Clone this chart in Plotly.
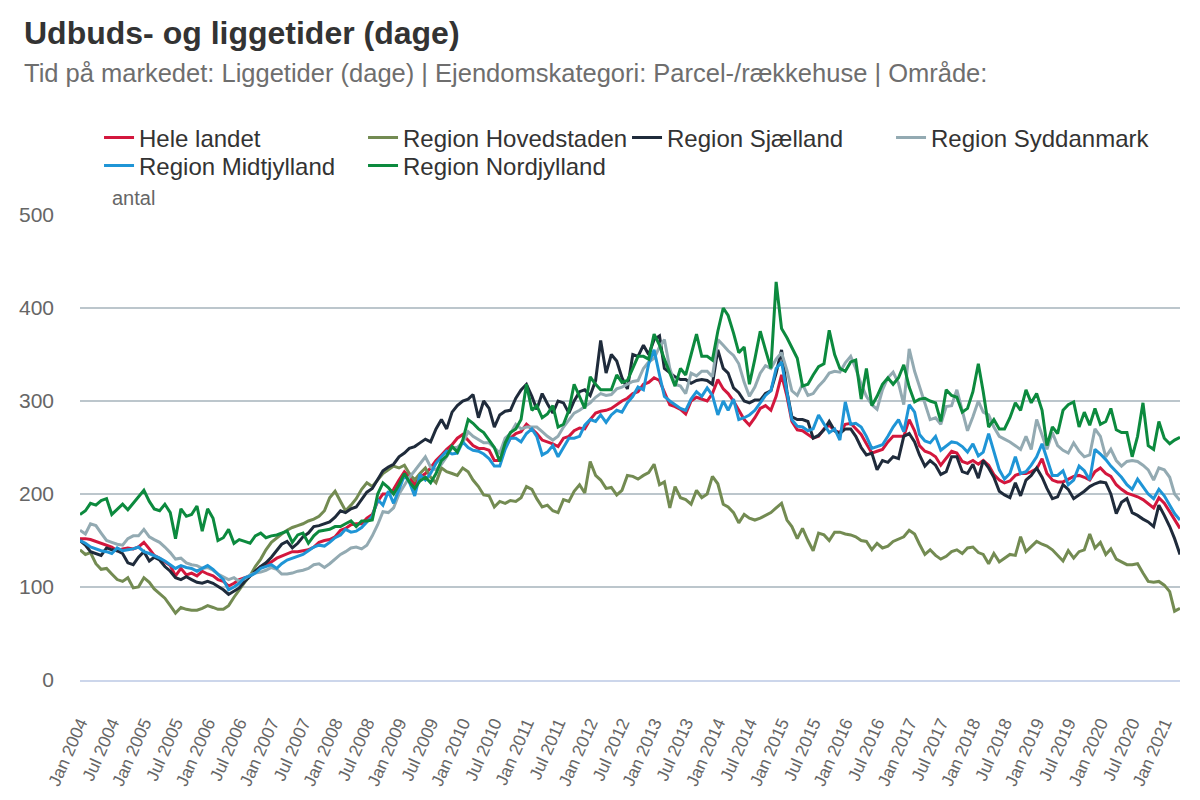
import plotly.graph_objects as go
import pandas as pd

months = pd.date_range("2004-01-01", periods=208, freq="MS")

hele_landet = [
    152,152,151,149,147,145,143,139,141,142,141,143,
    148,141,134,131,127,123,112,120,113,115,112,117,
    114,112,108,106,101,104,108,110,112,116,122,124,
    127,131,133,136,138,138,139,140,143,148,150,151,
    154,161,163,167,168,168,174,178,192,200,200,205,
    215,224,218,210,218,222,228,236,242,248,253,260,
    264,258,252,249,249,247,236,236,250,260,265,267,
    275,270,265,258,256,254,251,260,262,268,271,270,
    280,287,289,290,292,296,300,303,308,310,318,320,
    325,322,310,296,294,291,286,300,304,302,300,308,
    323,313,308,300,290,280,274,282,292,295,290,305,
    328,305,278,269,268,264,260,262,270,274,268,266,
    275,276,270,264,254,244,246,248,256,262,262,262,
    280,268,252,246,244,240,231,238,246,244,235,233,
    236,232,236,231,221,215,212,214,220,222,222,224,
    227,238,222,215,213,213,216,219,220,218,215,224,
    228,222,219,210,205,201,199,197,194,190,185,196,
    190,181,173,163,
]

hovedstaden = [
    140,135,137,125,119,120,114,108,106,110,99,100,
    110,105,98,93,88,80,72,78,76,75,75,77,
    80,78,76,76,80,89,97,105,112,122,130,140,
    148,153,157,161,164,166,168,171,173,176,182,196,
    203,192,182,188,195,205,212,208,215,222,226,230,
    228,231,222,215,222,228,218,212,228,224,222,220,
    228,224,215,208,199,198,186,192,190,193,192,196,
    208,205,195,186,188,182,180,194,192,203,210,201,
    235,220,215,206,207,199,204,220,219,216,220,223,
    232,210,213,185,208,196,194,189,204,196,200,219,
    211,189,186,180,169,178,174,172,174,177,180,185,
    190,172,165,152,163,150,139,158,156,150,159,159,
    157,156,154,150,149,140,147,142,144,149,152,154,
    161,157,146,135,140,134,130,133,138,140,136,142,
    143,137,135,125,136,127,131,135,134,154,138,143,
    149,146,144,140,134,128,139,131,138,140,157,142,
    148,135,141,130,127,124,124,125,115,106,105,106,
    102,95,74,77,
]

sjaelland = [
    150,145,138,136,134,142,140,139,136,126,124,132,
    138,128,132,129,122,117,110,108,111,108,105,104,
    106,104,101,97,92,96,99,106,112,117,122,126,
    132,139,146,149,142,147,154,158,165,166,168,170,
    175,182,180,184,186,194,202,206,215,225,229,232,
    240,244,249,251,255,259,256,270,280,270,288,295,
    300,302,307,282,300,292,272,285,289,290,303,312,
    318,305,291,308,297,287,300,298,287,300,310,312,
    306,322,365,330,350,343,325,313,350,348,360,350,
    366,370,335,330,326,323,323,319,322,323,322,318,
    355,335,330,314,309,300,298,301,301,308,311,330,
    355,310,283,280,280,278,260,263,269,278,268,265,
    270,270,262,250,242,244,226,236,234,240,238,262,
    265,256,242,230,236,231,221,224,240,240,224,222,
    232,217,236,228,218,203,199,196,212,198,215,220,
    228,218,206,195,197,210,205,195,199,203,208,211,
    213,212,200,179,191,195,180,177,173,170,165,188,
    177,165,152,135,
]

syddanmark = [
    161,157,168,166,158,150,148,146,145,152,155,155,
    162,154,151,148,143,137,130,131,126,124,123,120,
    121,118,114,111,108,110,106,109,113,115,116,118,
    121,119,114,114,115,117,118,120,124,125,121,125,
    130,135,138,142,143,141,145,155,167,181,180,185,
    200,210,218,225,232,240,229,226,232,240,250,250,
    255,267,262,258,255,255,250,244,260,265,275,270,
    272,272,272,267,262,258,262,272,280,287,290,294,
    298,304,308,306,307,313,315,318,321,322,335,342,
    346,358,366,335,318,316,308,330,327,332,332,326,
    366,360,354,349,340,320,305,315,330,338,335,345,
    352,333,311,306,318,306,308,316,322,330,332,331,
    341,348,335,318,305,296,291,312,325,331,319,296,
    356,332,315,297,280,282,275,294,295,312,291,268,
    283,300,288,285,272,262,259,256,252,248,262,248,
    280,262,248,266,252,247,244,255,246,240,242,270,
    262,240,248,236,230,235,236,235,231,226,215,228,
    226,218,200,193,
]

midtjylland = [
    150,147,143,141,139,138,136,142,139,140,141,143,
    138,136,134,131,128,124,120,123,121,120,117,120,
    123,119,114,108,97,100,104,110,112,115,120,122,
    124,120,125,129,131,133,135,139,143,145,144,148,
    153,156,162,159,160,164,170,176,194,188,203,190,
    205,220,213,198,221,215,222,233,240,246,243,244,
    256,250,247,246,243,238,230,230,248,260,260,256,
    265,270,262,242,245,252,240,250,260,260,262,274,
    280,278,285,277,285,290,288,298,305,315,312,340,
    355,328,305,300,296,292,290,302,310,305,314,306,
    285,300,290,302,280,282,285,290,298,306,311,335,
    342,308,280,273,272,268,270,285,276,266,270,258,
    299,275,276,272,262,249,251,253,262,272,280,267,
    296,288,264,257,255,262,247,252,256,255,251,245,
    254,241,245,265,245,226,216,222,240,222,224,231,
    240,254,238,220,220,225,210,215,230,225,215,248,
    243,237,230,224,218,210,205,216,208,200,195,205,
    198,188,179,172,
]

nordjylland = [
    178,182,190,188,193,195,178,184,189,183,190,197,
    204,192,184,182,189,180,152,184,176,178,187,160,
    184,174,150,153,162,147,151,149,147,155,158,153,
    155,156,158,160,148,156,158,147,155,160,161,162,
    165,165,168,171,165,171,171,172,200,212,207,200,
    210,222,213,206,214,218,212,222,236,241,251,245,
    258,280,276,270,266,258,250,235,255,266,270,280,
    318,290,295,282,286,295,272,275,290,318,305,292,
    326,318,312,312,312,328,320,322,335,348,348,345,
    372,360,345,330,316,335,328,350,372,348,348,344,
    375,400,392,373,352,358,318,345,375,355,335,428,
    378,368,357,346,316,318,328,337,340,376,350,335,
    332,342,344,302,335,295,305,318,325,318,325,339,
    315,299,302,303,300,298,278,312,306,304,288,292,
    310,340,310,272,280,270,270,282,298,290,312,298,
    308,290,252,272,265,290,296,299,272,288,274,292,
    275,278,292,269,266,266,240,262,298,252,248,278,
    260,254,258,261,
]

series_names = ["Hele landet", "Region Hovedstaden", "Region Sjælland",
                "Region Syddanmark", "Region Midtjylland", "Region Nordjylland"]
series_values = [hele_landet, hovedstaden, sjaelland, syddanmark, midtjylland, nordjylland]
series_colors = ["#d3173d", "#738b52", "#1f2b3b", "#93aab2", "#1f95d6", "#0c8a3e"]
legend_rows = ["legend", "legend", "legend", "legend", "legend2", "legend2"]

for n, v in zip(series_names, series_values):
    if len(v) != len(months):
        raise ValueError(f"{n}: {len(v)} values")

y_ticks = [0, 100, 200, 300, 400, 500]

fig = go.Figure()
for name, vals, col, lg in zip(series_names, series_values, series_colors, legend_rows):
    fig.add_trace(go.Scatter(x=months, y=vals, name=name, mode="lines",
                             line=dict(color=col, width=3), legend=lg))

FONT = "Liberation Sans, Arial, Helvetica, sans-serif"
legend_common = dict(orientation="h", xanchor="left", yanchor="middle",
                     font=dict(size=24, color="#333333", family=FONT),
                     entrywidth=219, entrywidthmode="pixels",
                     itemclick=False, bgcolor="rgba(0,0,0,0)")

fig.update_layout(
    width=1200, height=800,
    margin=dict(l=72, r=28, t=207, b=128, autoexpand=False),
    paper_bgcolor="white", plot_bgcolor="white",
    font=dict(family=FONT, color="#666666"),
    showlegend=True,
    legend=dict(x=0.0173, y=1.1656, **legend_common),
    legend2=dict(x=0.0173, y=1.1054, **legend_common),
    xaxis=dict(type="date", range=[months[0], months[-1]],
               tick0="2004-01-01", dtick="M6", tickformat="%b %Y",
               tickangle=-66, tickfont=dict(size=17.5, color="#666666"),
               showgrid=False, showline=True, linecolor="#ccd6eb", linewidth=2,
               ticks="", ticklabelstandoff=24, zeroline=False, automargin=False),
    yaxis=dict(range=[0, 500], tickvals=y_ticks, showgrid=True,
               gridcolor="#bcc6cc", gridwidth=1.5, zeroline=False,
               tickfont=dict(size=21, color="#666666"),
               ticks="", ticklabelstandoff=25, automargin=False),
    annotations=[
        dict(text="<b>Udbuds- og liggetider (dage)</b>", xref="paper", yref="paper",
             x=-0.0527, y=1.3914, xanchor="left", yanchor="middle", showarrow=False,
             font=dict(size=32, color="#333333", family=FONT)),
        dict(text="Tid på markedet: Liggetider (dage) | Ejendomskategori: Parcel-/rækkehuse | Område:",
             xref="paper", yref="paper", x=-0.0527, y=1.3054, xanchor="left", yanchor="middle",
             showarrow=False, font=dict(size=25.5, color="#6e6e6e", family=FONT)),
        dict(text="antal", xref="paper", yref="paper", x=0.0273, y=1.0366,
             xanchor="left", yanchor="middle", showarrow=False,
             font=dict(size=20, color="#666666", family=FONT)),
    ],
)

fig.write_html("out.html")
